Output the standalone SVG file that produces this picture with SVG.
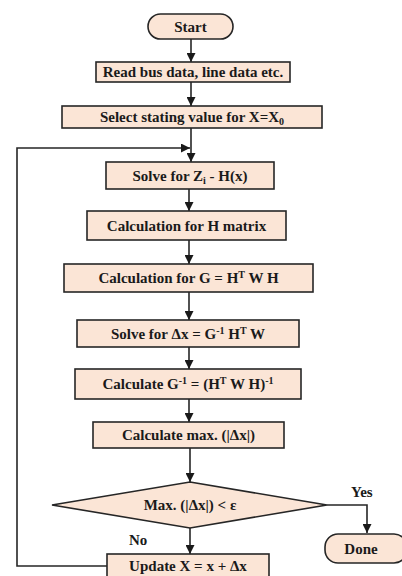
<svg xmlns="http://www.w3.org/2000/svg" width="402" height="576" viewBox="0 0 402 576">
<style>
.b{fill:#fbe5d6;stroke:#262626;stroke-width:1.6}
.t{font-family:"Liberation Serif","Times New Roman",serif;font-weight:bold;font-size:15px;fill:#1a1a1a;text-anchor:middle}
.l{font-family:"Liberation Serif","Times New Roman",serif;font-weight:bold;font-size:15px;fill:#1a1a1a}
.c{fill:none;stroke:#262626;stroke-width:1.6}
.s{font-size:10px}
</style>
<defs>
<marker id="ah" viewBox="0 0 10 10" refX="10" refY="5" markerWidth="9" markerHeight="9" markerUnits="userSpaceOnUse" orient="auto">
<path d="M0,0 L10,5 L0,10 Z" fill="#1a1a1a"/>
</marker>
</defs>
<rect width="402" height="576" fill="#ffffff"/>
<g id="connectors">
<line class="c" x1="191" y1="39" x2="191" y2="62" marker-end="url(#ah)"/>
<line class="c" x1="191" y1="82" x2="191" y2="106" marker-end="url(#ah)"/>
<line class="c" x1="191" y1="128" x2="191" y2="162" marker-end="url(#ah)"/>
<polyline class="c" points="107,566 17,566 17,148 190,148" marker-end="url(#ah)"/>
<line class="c" x1="189" y1="189" x2="189" y2="211" marker-end="url(#ah)"/>
<line class="c" x1="189" y1="240" x2="189" y2="264" marker-end="url(#ah)"/>
<line class="c" x1="189" y1="292" x2="189" y2="320" marker-end="url(#ah)"/>
<line class="c" x1="189" y1="347" x2="189" y2="369" marker-end="url(#ah)"/>
<line class="c" x1="189" y1="399" x2="189" y2="422" marker-end="url(#ah)"/>
<line class="c" x1="190" y1="448" x2="190" y2="482" marker-end="url(#ah)"/>
<line class="c" x1="190" y1="528" x2="190" y2="554" marker-end="url(#ah)"/>
<polyline class="c" points="327,505 367,505 367,533" marker-end="url(#ah)"/>
<text class="l" x="351" y="497">Yes</text>
<text class="l" x="129" y="545">No</text>
</g>
<g id="start">
<rect class="b" x="148" y="14" width="85" height="25" rx="12.5"/>
<text class="t" x="190.5" y="31.5">Start</text>
</g>
<g id="read">
<rect class="b" x="96" y="62" width="194" height="20"/>
<text class="t" x="193" y="77">Read bus data, line data etc.</text>
</g>
<g id="select">
<rect class="b" x="62" y="106" width="260" height="22"/>
<text class="t" x="192" y="122">Select stating value for X=X<tspan class="s" dy="3">0</tspan></text>
</g>
<g id="solvez">
<rect class="b" x="106" y="162" width="168" height="27"/>
<text class="t" x="190" y="180.5">Solve for Z<tspan class="s" dy="3">i</tspan><tspan dy="-3"> - H(x)</tspan></text>
</g>
<g id="hmatrix">
<rect class="b" x="87" y="211" width="199" height="29"/>
<text class="t" x="186.5" y="230.5">Calculation for H matrix</text>
</g>
<g id="gcalc">
<rect class="b" x="64" y="264" width="249" height="28"/>
<text class="t" x="188.5" y="283">Calculation for G = H<tspan class="s" dy="-5">T</tspan><tspan dy="5"> W H</tspan></text>
</g>
<g id="solvedx">
<rect class="b" x="77" y="320" width="222" height="27"/>
<text class="t" x="188" y="338.5">Solve for Δx = G<tspan class="s" dy="-5">-1</tspan><tspan dy="5"> H</tspan><tspan class="s" dy="-5">T</tspan><tspan dy="5"> W</tspan></text>
</g>
<g id="ginv">
<rect class="b" x="75" y="369" width="226" height="30"/>
<text class="t" x="188" y="389">Calculate G<tspan class="s" dy="-5">-1</tspan><tspan dy="5"> = (H</tspan><tspan class="s" dy="-5">T</tspan><tspan dy="5"> W H)</tspan><tspan class="s" dy="-5">-1</tspan></text>
</g>
<g id="maxdx">
<rect class="b" x="93" y="422" width="191" height="26"/>
<text class="t" x="188.5" y="440">Calculate max. (|Δx|)</text>
</g>
<g id="decision">
<polygon class="b" points="190,482 327,505 190,528 52,505"/>
<text class="t" x="190" y="510">Max. (|Δx|) &lt; ε</text>
</g>
<g id="update">
<rect class="b" x="107" y="554" width="162" height="30"/>
<text class="t" x="188" y="571">Update X = x + Δx</text>
</g>
<g id="done">
<rect class="b" x="325" y="534" width="82" height="29" rx="13"/>
<text class="t" x="361" y="553.5">Done</text>
</g>
</svg>
